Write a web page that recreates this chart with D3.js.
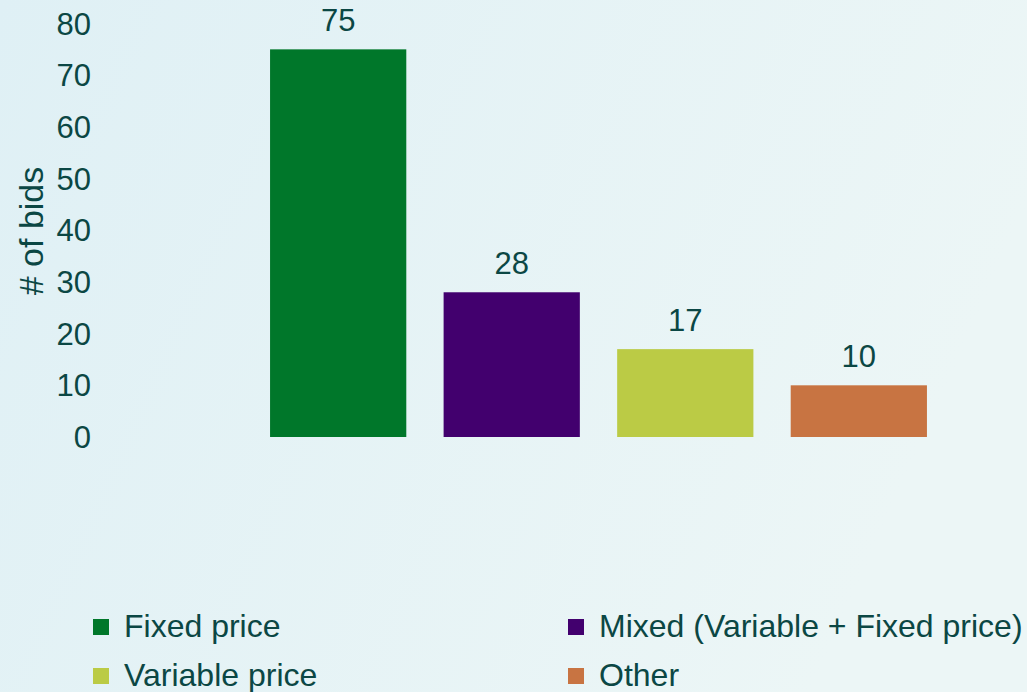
<!DOCTYPE html>
<html>
<head>
<meta charset="utf-8">
<script src="https://cdn.jsdelivr.net/npm/d3@7"></script>
<style>
  html, body { margin: 0; padding: 0; }
  body { width: 1027px; height: 692px; overflow: hidden; }
  text { font-family: "Liberation Sans", Arial, sans-serif; fill: #0b4744; }
</style>
</head>
<body>
<svg id="vis"></svg>
<script>
const categories = ["Fixed price", "Mixed (Variable + Fixed price)", "Variable price", "Other"];
const values = [75, 28, 17, 10];
const colors = ["#00772a", "#42006e", "#bbcb45", "#c87442"];
const yTicks = [0, 10, 20, 30, 40, 50, 60, 70, 80];

const WIDTH = 1027;
const HEIGHT = 692;

const svg = d3.select("#vis")
    .attr("width", WIDTH)
    .attr("height", HEIGHT);

// fondo degradado suave
const defs = svg.append("defs");
const grad = defs.append("linearGradient")
    .attr("id", "bg")
    .attr("x1", "0").attr("y1", "0")
    .attr("x2", "1").attr("y2", "0.3");
grad.append("stop").attr("offset", "0").attr("stop-color", "#dff0f5");
grad.append("stop").attr("offset", "1").attr("stop-color", "#ecf6f6");
svg.append("rect")
    .attr("width", WIDTH)
    .attr("height", HEIGHT)
    .attr("fill", "url(#bg)");

const escalaY = d3.scaleLinear()
    .domain([0, 80])
    .range([437, 23.5]);

const escalaX = d3.scaleBand()
    .domain(categories)
    .range([251.4, 945.6])
    .paddingInner(0.215)
    .paddingOuter(0.1075);

// eje Y sin líneas, solo etiquetas
const ejeY = d3.axisLeft(escalaY)
    .tickValues(yTicks)
    .tickSize(0)
    .tickPadding(0);
const gEje = svg.append("g")
    .attr("transform", "translate(91, 0)")
    .call(ejeY);
gEje.select(".domain").remove();
gEje.selectAll("text")
    .attr("font-size", 31)
    .attr("font-family", "Liberation Sans, Arial, sans-serif")
    .attr("fill", "#0b4744")
    .attr("dy", "0.34em");

svg.append("text")
    .attr("transform", "translate(43, 231) rotate(-90)")
    .attr("text-anchor", "middle")
    .attr("font-size", 34)
    .text("# of bids");

svg.selectAll(".bar")
    .data(values)
    .join("rect")
    .attr("class", "bar")
    .attr("x", (d, i) => escalaX(categories[i]))
    .attr("y", d => escalaY(d))
    .attr("width", escalaX.bandwidth())
    .attr("height", d => escalaY(0) - escalaY(d))
    .attr("fill", (d, i) => colors[i]);

svg.selectAll(".valor")
    .data(values)
    .join("text")
    .attr("class", "valor")
    .attr("x", (d, i) => escalaX(categories[i]) + escalaX.bandwidth() / 2)
    .attr("y", d => escalaY(d) - 18)
    .attr("text-anchor", "middle")
    .attr("font-size", 31)
    .text(d => d);

// leyenda en dos columnas
const legendCols = [93, 568];
const legendRows = [637, 686];
const leyenda = svg.selectAll(".leyenda")
    .data(categories)
    .join("g")
    .attr("class", "leyenda")
    .attr("transform", (d, i) => `translate(${legendCols[i % 2]}, ${legendRows[Math.floor(i / 2)]})`);
leyenda.append("rect")
    .attr("x", 0)
    .attr("y", -18)
    .attr("width", 16)
    .attr("height", 16)
    .attr("fill", (d, i) => colors[i]);
leyenda.append("text")
    .attr("x", 31)
    .attr("y", 0)
    .attr("font-size", 32)
    .text(d => d);
</script>
</body>
</html>
